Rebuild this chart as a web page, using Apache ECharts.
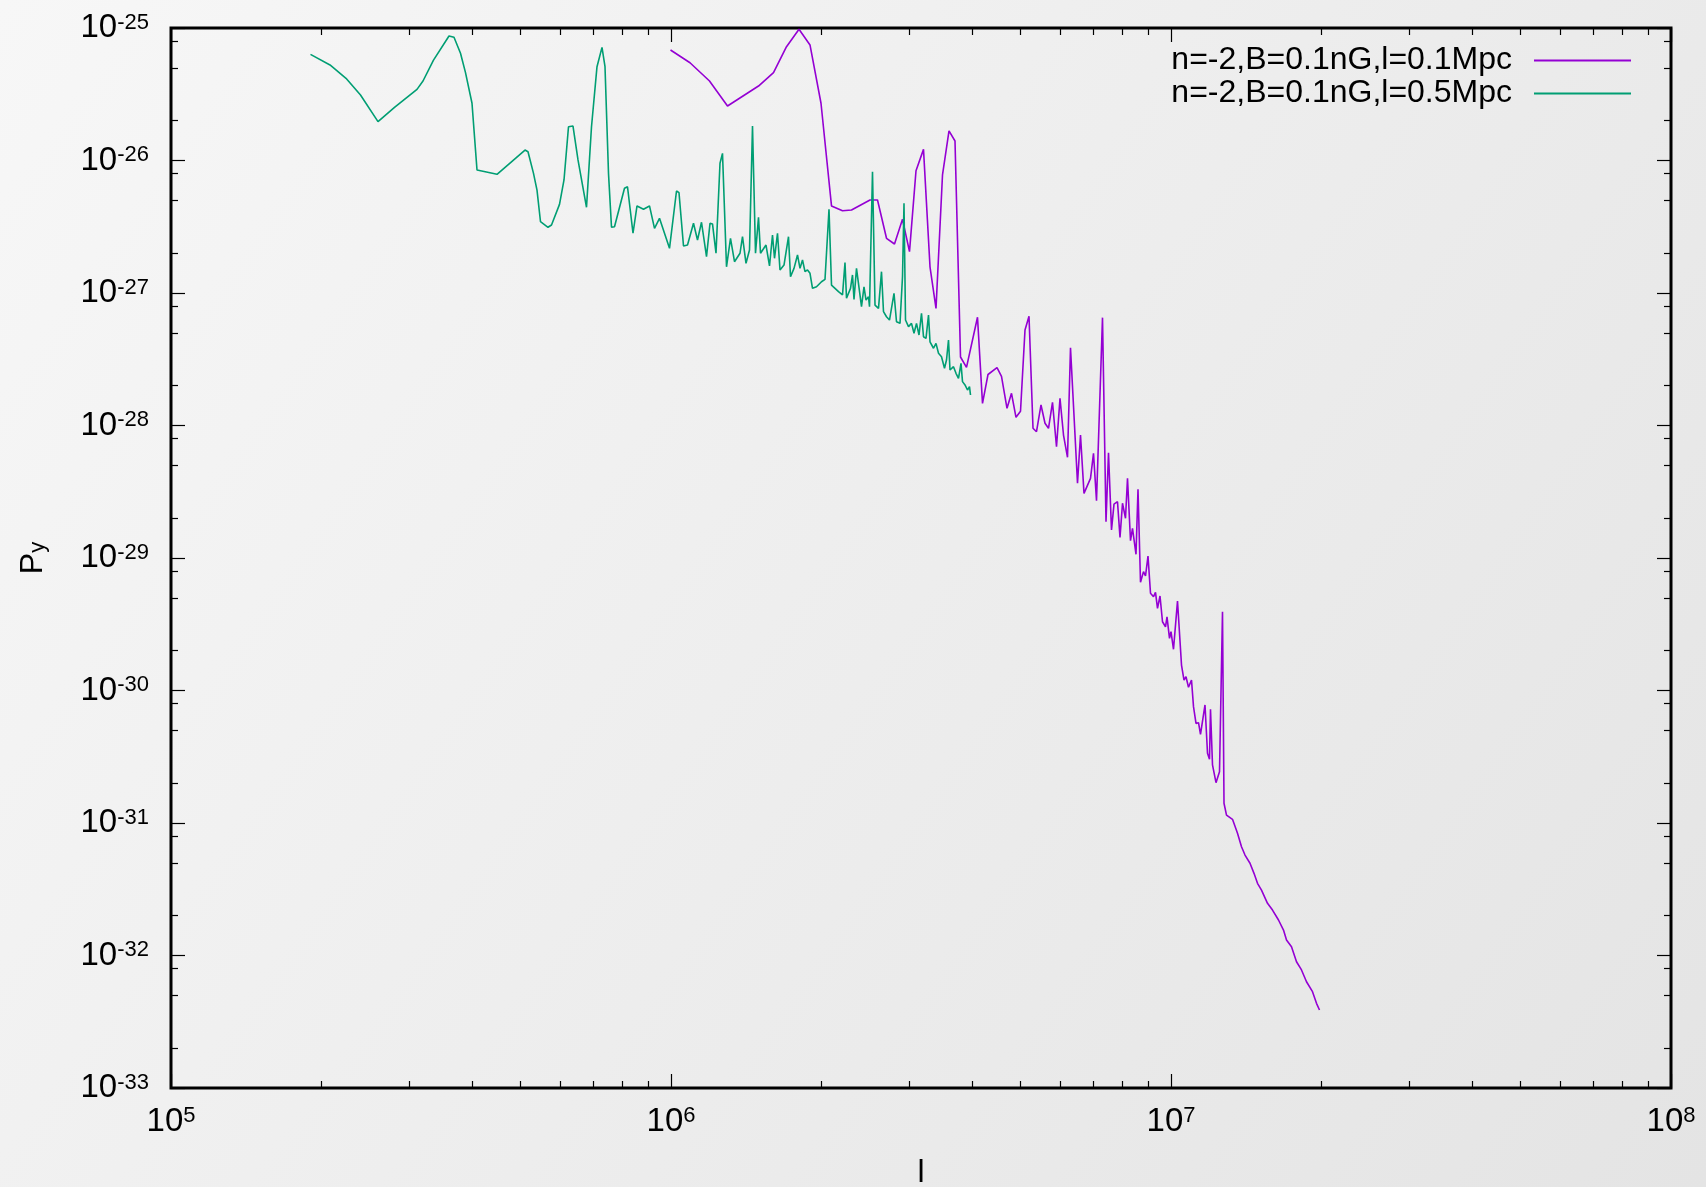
<!DOCTYPE html>
<html><head><meta charset="utf-8">
<script src="https://cdn.jsdelivr.net/npm/echarts@6/dist/echarts.min.js"></script>
<style>html,body{margin:0;padding:0;background:#eee;}#c{width:1706px;height:1187px;}</style>
</head><body><div id="c"></div>
<script>
const seriesNames = ['n=-2,B=0.1nG,l=0.1Mpc', 'n=-2,B=0.1nG,l=0.5Mpc'];
const seriesColors = ['#9400d3', '#009e73'];

// values, stored as log10(l) and log10(P_y)
const purpleLogL = [5.999,6.038,6.077,6.113,6.175,6.205,6.231,6.256,6.278,6.300,6.321,6.343,6.361,6.398,6.413,6.431,6.447,6.463,6.477,6.490,6.505,6.518,6.530,6.543,6.556,6.568,6.579,6.591,6.613,6.623,6.634,6.652,6.661,6.672,6.681,6.690,6.699,6.708,6.716,6.724,6.731,6.740,6.748,6.755,6.763,6.771,6.778,6.785,6.793,6.799,6.813,6.819,6.826,6.839,6.845,6.851,6.863,6.870,6.875,6.881,6.886,6.893,6.898,6.903,6.909,6.913,6.919,6.923,6.930,6.934,6.939,6.945,6.949,6.954,6.959,6.965,6.969,6.973,6.978,6.983,6.989,6.992,6.997,7.000,7.005,7.009,7.013,7.021,7.026,7.030,7.035,7.041,7.045,7.050,7.055,7.059,7.063,7.068,7.073,7.077,7.079,7.083,7.090,7.097,7.103,7.106,7.111,7.123,7.133,7.141,7.148,7.158,7.166,7.173,7.181,7.193,7.203,7.215,7.225,7.231,7.241,7.251,7.261,7.271,7.283,7.291,7.297];
const purpleLogP = [-25.166,-25.262,-25.400,-25.589,-25.438,-25.337,-25.141,-25.010,-25.128,-25.568,-26.343,-26.379,-26.374,-26.298,-26.298,-26.587,-26.630,-26.444,-26.688,-26.077,-25.916,-26.802,-27.116,-26.109,-25.777,-25.853,-27.483,-27.561,-27.183,-27.833,-27.615,-27.564,-27.629,-27.870,-27.757,-27.938,-27.893,-27.279,-27.176,-28.021,-28.047,-27.845,-27.983,-28.021,-27.825,-28.160,-27.795,-28.072,-28.240,-27.413,-28.436,-28.072,-28.512,-28.399,-28.210,-28.568,-27.186,-28.726,-28.205,-28.789,-28.593,-28.575,-28.844,-28.587,-28.700,-28.399,-28.869,-28.776,-28.972,-28.482,-29.183,-29.103,-29.136,-28.985,-29.266,-29.292,-29.259,-29.380,-29.287,-29.481,-29.519,-29.445,-29.606,-29.556,-29.689,-29.698,-29.325,-29.808,-29.921,-29.896,-29.976,-29.921,-30.122,-30.248,-30.243,-30.331,-30.323,-30.109,-30.474,-30.519,-30.142,-30.562,-30.696,-30.613,-29.405,-30.851,-30.940,-30.972,-31.078,-31.179,-31.242,-31.304,-31.380,-31.455,-31.506,-31.606,-31.657,-31.732,-31.808,-31.883,-31.934,-32.047,-32.109,-32.198,-32.273,-32.361,-32.411];

const greenLogL = [5.279,5.318,5.350,5.379,5.414,5.447,5.492,5.504,5.525,5.556,5.566,5.579,5.589,5.602,5.612,5.652,5.708,5.714,5.725,5.732,5.739,5.754,5.761,5.777,5.786,5.795,5.804,5.814,5.831,5.841,5.852,5.862,5.868,5.875,5.881,5.887,5.907,5.913,5.924,5.932,5.945,5.957,5.967,5.977,5.997,6.011,6.016,6.025,6.033,6.045,6.053,6.061,6.071,6.078,6.083,6.090,6.098,6.103,6.111,6.119,6.127,6.138,6.143,6.150,6.157,6.163,6.169,6.175,6.179,6.190,6.197,6.203,6.207,6.213,6.218,6.226,6.235,6.239,6.246,6.253,6.258,6.263,6.268,6.273,6.278,6.283,6.291,6.301,6.308,6.316,6.321,6.328,6.335,6.343,6.348,6.351,6.359,6.363,6.366,6.371,6.381,6.386,6.390,6.395,6.397,6.403,6.408,6.415,6.421,6.425,6.431,6.437,6.446,6.451,6.458,6.463,6.466,6.469,6.475,6.481,6.486,6.491,6.496,6.501,6.505,6.510,6.515,6.518,6.525,6.530,6.535,6.541,6.547,6.551,6.555,6.558,6.565,6.570,6.575,6.580,6.583,6.588,6.593,6.597,6.599];
const greenLogP = [-25.199,-25.279,-25.380,-25.506,-25.707,-25.599,-25.463,-25.400,-25.242,-25.060,-25.070,-25.191,-25.337,-25.568,-26.072,-26.104,-25.921,-25.934,-26.097,-26.223,-26.462,-26.504,-26.487,-26.331,-26.147,-25.745,-25.740,-25.996,-26.353,-25.745,-25.292,-25.146,-25.292,-26.097,-26.504,-26.500,-26.210,-26.198,-26.549,-26.343,-26.368,-26.343,-26.512,-26.436,-26.663,-26.230,-26.243,-26.645,-26.638,-26.474,-26.600,-26.466,-26.726,-26.474,-26.479,-26.700,-26.021,-25.946,-26.802,-26.587,-26.764,-26.700,-26.575,-26.776,-26.676,-25.740,-26.700,-26.429,-26.700,-26.638,-26.796,-26.562,-26.738,-26.549,-26.826,-26.789,-26.575,-26.877,-26.814,-26.713,-26.814,-26.751,-26.839,-26.826,-26.851,-26.965,-26.953,-26.915,-26.897,-26.368,-26.940,-26.965,-26.990,-27.015,-26.771,-27.040,-26.965,-26.864,-27.048,-26.814,-27.103,-26.953,-27.053,-27.028,-27.103,-26.085,-27.091,-27.116,-26.839,-27.141,-27.179,-27.204,-27.002,-27.217,-27.229,-26.877,-26.323,-27.204,-27.254,-27.229,-27.304,-27.229,-27.317,-27.153,-27.330,-27.342,-27.166,-27.368,-27.417,-27.380,-27.455,-27.481,-27.568,-27.506,-27.355,-27.581,-27.556,-27.606,-27.644,-27.531,-27.669,-27.694,-27.732,-27.707,-27.770];

// axis ticks (exponents of 10) and minor tick values
const xTickExp = [5, 6, 7, 8];
const yTickExp = [-33, -32, -31, -30, -29, -28, -27, -26, -25];
const xMinorTicks = [2e5,3e5,4e5,5e5,6e5,7e5,8e5,9e5,2e6,3e6,4e6,5e6,6e6,7e6,8e6,9e6,2e7,3e7,4e7,5e7,6e7,7e7,8e7,9e7];
const yMinorTicks = [2e-33,5e-33,8e-33,2e-32,5e-32,8e-32,2e-31,5e-31,8e-31,2e-30,5e-30,8e-30,2e-29,5e-29,8e-29,2e-28,5e-28,8e-28,2e-27,5e-27,8e-27,2e-26,5e-26,8e-26];
const xLabel = 'l';
const yLabelMain = 'P';
const yLabelSub = 'y';

const F = 'Liberation Sans, Arial, Helvetica, sans-serif';
const xMajor = xTickExp.map(e => Math.pow(10, e));
// the y decades are drawn on a linear exponent axis laid over the log axis
const yMinorExp = yMinorTicks.map(v => Math.log10(v));
const toPairs = (a, b) => a.map((v, i) => [Math.pow(10, v), Math.pow(10, b[i])]);

const rich = {
  b: {fontSize: 33, fontFamily: F, color: '#000', lineHeight: 33, padding: [9, 0, 0, 0], verticalAlign: 'bottom'},
  s: {fontSize: 22, fontFamily: F, color: '#000', lineHeight: 22, verticalAlign: 'top'}
};
const fmtLog = v => '{b|10}{s|' + Math.round(Math.log10(v)) + '}';
const fmtExp = v => '{b|10}{s|' + Math.round(v) + '}';

const gridRect = {left: 171, top: 28, width: 1500, height: 1060, outerBoundsMode: 'none', containLabel: false};
const tickStyle = {color: '#000', width: 1.2};
const noTick = {show: false};

function xLog(grid, pos, ticks, len, labels, show) {
  return {
    type: 'log', logBase: 10, gridIndex: grid, position: pos, min: 1e5, max: 1e8, show: show !== false,
    axisLine: {show: false},
    splitLine: {show: false},
    axisTick: ticks ? {show: true, inside: true, length: len, lineStyle: tickStyle, customValues: ticks} : noTick,
    axisLabel: labels ? {show: true, customValues: xMajor, formatter: fmtLog, rich: rich, margin: 17} : {show: false},
    name: labels ? xLabel : '',
    nameLocation: 'middle', nameGap: 69,
    nameTextStyle: {fontSize: 32, fontFamily: F, color: '#000'}
  };
}
function yExp(grid, pos, ticks, len, labels) {
  return {
    type: 'value', gridIndex: grid, position: pos, min: -33, max: -25, interval: 1,
    axisLine: {show: false},
    splitLine: {show: false},
    axisTick: {show: true, inside: true, length: len, lineStyle: tickStyle, customValues: ticks},
    axisLabel: labels ? {show: true, customValues: yTickExp, formatter: fmtExp, rich: rich, margin: 22} : {show: false},
    name: labels ? '{p|' + yLabelMain + '}{q|' + yLabelSub + '}' : '',
    nameLocation: 'middle', nameRotate: 90, nameGap: 122,
    nameTextStyle: {rich: {
      p: {fontSize: 32, fontFamily: F, color: '#000', lineHeight: 32, padding: [0, 0, 7, 0], verticalAlign: 'top'},
      q: {fontSize: 22, fontFamily: F, color: '#000', lineHeight: 22, verticalAlign: 'bottom'}
    }}
  };
}

const chart = echarts.init(document.getElementById('c'), null, {renderer: 'canvas', width: 1706, height: 1187});
chart.setOption({
  animation: false,
  backgroundColor: new echarts.graphic.LinearGradient(0, 0, 1, 1, [
    {offset: 0, color: '#f7f7f7'}, {offset: 1, color: '#e4e4e4'}
  ]),
  grid: [
    Object.assign({show: true, borderColor: '#000', borderWidth: 3, backgroundColor: 'transparent'}, gridRect),
    Object.assign({show: false}, gridRect),
    Object.assign({show: false}, gridRect)
  ],
  legend: {
    orient: 'vertical', right: 70, top: 39, align: 'right',
    itemWidth: 97, itemHeight: 2, itemGap: 0, icon: 'rect',
    textStyle: {fontSize: 32, fontFamily: F, color: '#000', lineHeight: 33, padding: [0, 17, 0, 0]},
    data: seriesNames
  },
  xAxis: [
    xLog(0, 'bottom', xMajor, 14, true),
    xLog(0, 'top', xMajor, 14, false),
    xLog(1, 'bottom', xMinorTicks, 7, false),
    xLog(1, 'top', xMinorTicks, 7, false),
    xLog(2, 'bottom', null, 0, false, false)
  ],
  yAxis: [
    {type: 'log', logBase: 10, gridIndex: 0, min: 1e-33, max: 1e-25, axisLine: {show: false}, axisTick: noTick,
     axisLabel: {show: false}, splitLine: {show: false}},
    yExp(1, 'left', yTickExp, 14, true),
    yExp(1, 'right', yTickExp, 14, false),
    yExp(2, 'left', yMinorExp, 7, false),
    yExp(2, 'right', yMinorExp, 7, false)
  ],
  series: [
    {name: seriesNames[0], type: 'line', xAxisIndex: 0, yAxisIndex: 0, showSymbol: false, symbol: 'none',
     color: seriesColors[0], lineStyle: {width: 1.6, color: seriesColors[0]}, data: toPairs(purpleLogL, purpleLogP)},
    {name: seriesNames[1], type: 'line', xAxisIndex: 0, yAxisIndex: 0, showSymbol: false, symbol: 'none',
     color: seriesColors[1], lineStyle: {width: 1.6, color: seriesColors[1]}, data: toPairs(greenLogL, greenLogP)}
  ]
});
</script></body></html>
